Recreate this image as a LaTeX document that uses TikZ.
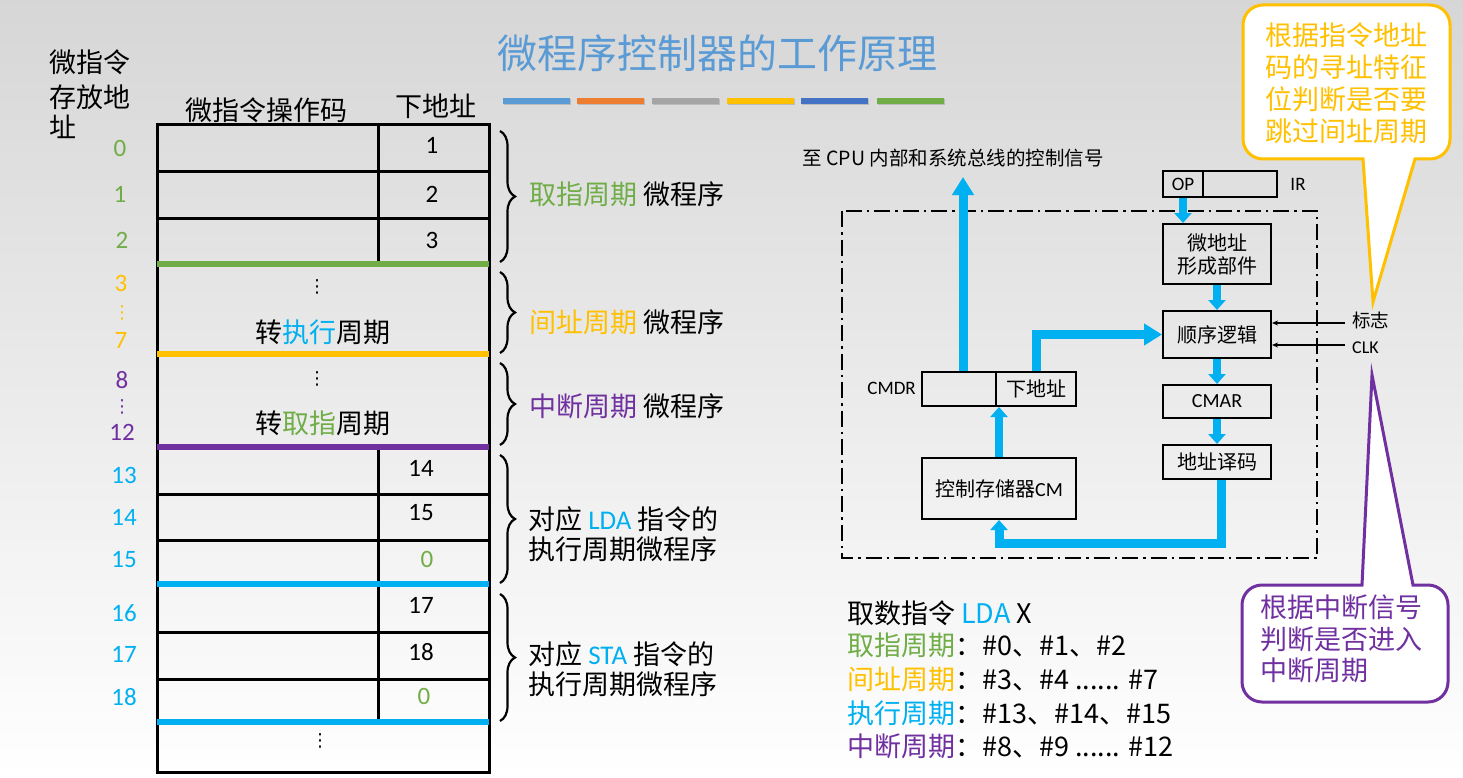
\documentclass[tikz,border=0pt]{standalone}
\usepackage{fontspec}
\setmainfont{Noto Sans CJK SC}
\newfontfamily\lat{Carlito}
\newfontfamily\dv{DejaVu Sans}
\usetikzlibrary{arrows.meta,decorations.pathreplacing,calc}
\definecolor{cgreen}{HTML}{70AD47}
\definecolor{cyellow}{HTML}{FFC000}
\definecolor{cpurple}{HTML}{7030A0}
\definecolor{ccyan}{HTML}{00B0F0}
\definecolor{ctitle}{HTML}{5B9BD5}
\definecolor{corange}{HTML}{ED7D31}
\definecolor{cgrayb}{HTML}{A5A5A5}
\definecolor{cblue}{HTML}{4472C4}
\newcommand{\myfs}[1]{\fontsize{#1}{#1}\selectfont}
\newcommand{\myfsl}[2]{\fontsize{#1}{#2}\selectfont}
\begin{document}
\begin{tikzpicture}[x=1pt,y=-1pt,
  every node/.style={inner sep=0pt},
  hd/.style={font=\myfs{27}},
  num/.style={font=\lat\myfs{25}},
  tbl/.style={line width=3pt},
  sepline/.style={line width=6pt},
  br/.style={decorate, decoration={brace, amplitude=15pt}, line width=2.2pt},
  box/.style={draw, line width=2pt, font=\myfs{20}, align=center},
  flow/.style={draw=ccyan, line width=9pt, line join=miter, -{Triangle[width=21pt,length=18pt]}},
  flowsm/.style={draw=ccyan, line width=8pt, -{Triangle[width=17pt,length=10pt]}},
  sigline/.style={line width=1.2pt, -{Stealth[length=6pt,width=5pt]}},
  vdots/.style={font=\dv\myfs{18}},
]
\useasboundingbox (0,0) rectangle (1463,778);
\shade[top color=black!16, bottom color=white] (0,0) rectangle (1463,778);

% title and colour bars
\node[font=\myfs{40}, text=ctitle] (title) at (717,53) {微程序控制器的工作原理};
\foreach \xx/\cc in {503/ctitle,577/corange,652/cgrayb,727/cyellow,801/cblue,877/cgreen}{
  \fill[black, opacity=0.15] (\xx+1,99.5) rectangle ++(67,6);
  \fill[\cc] (\xx,98) rectangle ++(67,6);
}

% headers
\node[hd, anchor=west] (h1) at (49,62) {微指令};
\node[hd, anchor=west] (h2) at (49,97) {存放地};
\node[hd, anchor=west] (h3) at (49,127) {址};
\node[hd] (hop) at (266,110) {微指令操作码};
\node[hd] (hnext) at (436,106) {下地址};

% table
\draw[tbl] (157,125) rectangle (489,772);
\draw[tbl] (378,125) -- (378,264);
\draw[tbl] (378,447) -- (378,722);
\foreach \yy in {172,218,494,540,632,679}{
  \draw[tbl] (157,\yy) -- (489,\yy);
}
\draw[sepline, cgreen] (157,264) -- (489,264);
\draw[sepline, cyellow] (157,354) -- (489,354);
\draw[sepline, cpurple] (157,447) -- (489,447);
\draw[sepline, ccyan] (157,584) -- (489,584);
\draw[sepline, ccyan] (157,722) -- (489,722);

% addresses
\node[num, text=cgreen] (a0) at (120,148) {0};
\node[num, text=cgreen] (a1) at (120,194) {1};
\node[num, text=cgreen] (a2) at (122,240) {2};
\node[num, text=cyellow] (a3) at (121,283) {3};
\node[vdots, text=cyellow] (a3d) at (122,313) {⋮};
\node[num, text=cyellow] (a7) at (121,340) {7};
\node[num, text=cpurple] (a8) at (122,380) {8};
\node[vdots, text=cpurple] (a8d) at (122,407) {⋮};
\node[num, text=cpurple] (a12) at (122,432) {12};
\node[num, text=ccyan] (a13) at (124,475) {13};
\node[num, text=ccyan] (a14) at (124,517) {14};
\node[num, text=ccyan] (a15) at (124,560) {15};
\node[num, text=ccyan] (a16) at (124,613) {16};
\node[num, text=ccyan] (a17) at (124,654) {17};
\node[num, text=ccyan] (a18) at (124,697) {18};

% next addresses
\node[num] (n0) at (432,145) {1};
\node[num] (n1) at (432,194) {2};
\node[num] (n2) at (432,240) {3};
\node[num] (n13) at (421,468) {14};
\node[num] (n14) at (421,513) {15};
\node[num, text=cgreen] (n15) at (427,559) {0};
\node[num] (n16) at (421,605) {17};
\node[num] (n17) at (421,652) {18};
\node[num, text=cgreen] (n18) at (424,696) {0};

% cell contents
\node[vdots] (d1) at (317,287) {⋮};
\node[hd] (jexec) at (323,332) {转{\color{ccyan}执行}周期};
\node[vdots] (d2) at (317,379) {⋮};
\node[hd] (jfetch) at (323,423) {转{\color{cgreen}取指}周期};
\node[vdots] (d3) at (320,741) {⋮};

% braces and labels
\draw[br] (500,131) -- (500,262);
\draw[br] (500,272) -- (500,353);
\draw[br] (500,363) -- (500,445);
\draw[br] (500,455) -- (500,583);
\draw[br] (500,594) -- (500,721);
\node[hd, anchor=west] (l1) at (529,194) {{\color{cgreen}取指周期} 微程序};
\node[hd, anchor=west] (l2) at (529,322) {{\color{cyellow}间址周期} 微程序};
\node[hd, anchor=west] (l3) at (529,406) {{\color{cpurple}中断周期} 微程序};
\node[hd, anchor=west] (l4a) at (528,519) {对应 {\lat\color{ccyan}LDA} 指令的};
\node[hd, anchor=west] (l4b) at (528,549) {执行周期微程序};
\node[hd, anchor=west] (l5a) at (528,654) {对应 {\lat\color{ccyan}STA} 指令的};
\node[hd, anchor=west] (l5b) at (528,684) {执行周期微程序};

% right diagram
\node[font=\myfs{19.5}] (sig) at (953,158) {至 CPU 内部和系统总线的控制信号};
\draw[line width=2pt, dash pattern=on 16pt off 5pt on 2.5pt off 5pt] (842,211) rectangle (1317,558);
\node[box, minimum width=40pt, minimum height=26pt, font=\lat\myfs{19}] (op) at (1183,184) {OP};
\node[box, minimum width=74pt, minimum height=26pt] (irr) at (1240,184) {};
\node[font=\lat\myfs{19}] (irlbl) at (1298,184) {IR};
\node[box, minimum width=108pt, minimum height=60pt, font=\myfsl{20}{23}] (maf) at (1217,254) {微地址\\形成部件};
\node[box, minimum width=108pt, minimum height=47pt] (seq) at (1217,334.5) {顺序逻辑};
\node[box, minimum width=108pt, minimum height=33pt, font=\lat\myfs{20}] (cmar) at (1217,401.5) {CMAR};
\node[box, minimum width=108pt, minimum height=34pt] (dec) at (1217,462) {地址译码};
\node[box, minimum width=74pt, minimum height=34pt] (cmdrl) at (959,389) {};
\node[box, minimum width=80pt, minimum height=34pt] (cmdrn) at (1036,389) {下地址};
\node[font=\lat\myfs{19}, anchor=east] (cmdrlbl) at (916,388) {CMDR};
\node[box, minimum width=154pt, minimum height=61pt] (cm) at (999,488.5) {控制存储器{\lat CM}};

\coordinate (sigtop) at (963,177);
\draw[flow] (sigtop |- cmdrl.north) -- (sigtop);
\draw[flow] (cmdrn.north) |- (seq.west);
\draw[flowsm] (op.south) -- (maf.north -| op.south);
\draw[flowsm] (maf.south) -- (seq.north);
\draw[flowsm] (seq.south) -- (cmar.north);
\draw[flowsm] (cmar.south) -- (dec.north);
\coordinate (loop) at (1221,543);
\draw[flow, -{Triangle[width=17pt,length=10pt]}] (dec.south -| loop) -- (loop) -| (cm.south);
\draw[flowsm] (cm.north) -- (cm.north |- cmdrn.south);

\coordinate (flagsrc) at (1345,323);
\coordinate (clksrc) at (1345,345);
\draw[sigline] (flagsrc) -- (flagsrc -| seq.east);
\draw[sigline] (clksrc) -- (clksrc -| seq.east);
\node[font=\myfs{18.5}, anchor=west] (flag) at (1352,320) {标志};
\node[font=\lat\myfs{18}, anchor=west] (clk) at (1352,348) {CLK};

% callouts
\draw[draw=cyellow, line width=3pt, fill=white] (1363,159) [rounded corners=20pt] -- (1243,159) -- (1243,5) -- (1450,5) -- (1450,159) [sharp corners] -- (1415,159) -- (1373,302) -- cycle;
\node[text=cyellow, font=\myfsl{27}{32}, align=center] (calloutA) at (1346,83) {根据指令地址\\码的寻址特征\\位判断是否要\\跳过间址周期};
\draw[draw=cpurple, line width=3pt, fill=white] (1413,585) [rounded corners=20pt] -- (1448,585) -- (1448,702) -- (1242,702) -- (1242,585) [sharp corners] -- (1362,585) -- (1372,375) -- cycle;
\node[text=cpurple, font=\myfsl{27}{31.5}, align=left] (calloutB) at (1341,639) {根据中断信号\\判断是否进入\\中断周期};

% bottom text
\node[hd, anchor=west] (b1) at (847,613) {取数指令 {\color{ccyan}LDA} X};
\node[hd, anchor=west] (b2) at (847,645) {{\color{cgreen}取指周期}：\#0、\#1、\#2};
\node[hd, anchor=west] (b3) at (847,679) {{\color{cyellow}间址周期}：\#3、\#4 ...... \#7};
\node[hd, anchor=west] (b4) at (847,713) {{\color{ccyan}执行周期}：\#13、\#14、\#15};
\node[hd, anchor=west] (b5) at (847,746) {{\color{cpurple}中断周期}：\#8、\#9 ...... \#12};
\end{tikzpicture}
\end{document}
